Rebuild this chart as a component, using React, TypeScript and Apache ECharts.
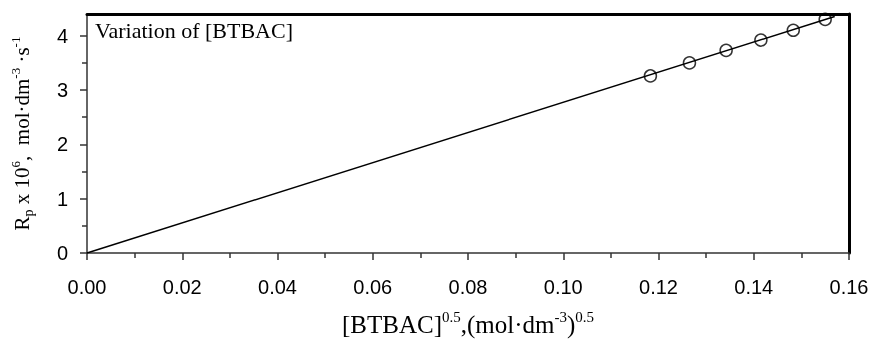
import React, { useEffect, useRef } from "react";
import * as echarts from "echarts";

const xValues = [0.1183, 0.1265, 0.1342, 0.1415, 0.1483, 0.155];
const yValues = [3.26, 3.5, 3.73, 3.92, 4.1, 4.3];
const fitLine = [
  [0, 0],
  [0.157, 4.355],
];
const yMajorTicks = [0, 1, 2, 3, 4];
const yMinorTicks = [0.5, 1.5, 2.5, 3.5];
const titleText = "Variation of [BTBAC]";

const SERIF = "'Liberation Serif', 'Times New Roman', serif";
const SANS = "'Liberation Sans', Arial, sans-serif";

export default function App() {
  const ref = useRef<HTMLDivElement>(null);
  useEffect(() => {
    if (!ref.current) return;
    const chart = echarts.init(ref.current, null, { renderer: "svg" });
    const xb = { fontFamily: SERIF, fontSize: 25, color: "#000" };
    const xs = { fontFamily: SERIF, fontSize: 15, color: "#000", verticalAlign: "top" as const };
    const yb = { fontFamily: SERIF, fontSize: 21, color: "#000" };
    const ys = { fontFamily: SERIF, fontSize: 13, color: "#000", verticalAlign: "top" as const };
    const yd = { fontFamily: SERIF, fontSize: 14, color: "#000", verticalAlign: "bottom" as const };
    chart.setOption({
      animation: false,
      grid: { left: 87, right: 23, top: 14, bottom: 80, containLabel: false },
      graphic: [
        {
          type: "text",
          left: 95,
          top: 19,
          style: { text: titleText, font: `22px ${SERIF}`, fill: "#000" },
        },
      ],
      xAxis: [
        {
          type: "value",
          min: 0,
          max: 0.16,
          interval: 0.02,
          splitLine: { show: false },
          axisLine: { show: true, onZero: false, lineStyle: { color: "#333", width: 1.5 } },
          axisTick: { show: true, length: 7, lineStyle: { color: "#333", width: 1.5 } },
          minorTick: { show: true, splitNumber: 2, length: 5, lineStyle: { color: "#333", width: 1.5 } },
          axisLabel: {
            margin: 24,
            fontFamily: SANS,
            fontSize: 20,
            color: "#000",
            formatter: (v: number) => v.toFixed(2),
          },
          name: "{b|[BTBAC]}{s|0.5}{b|,(mol·dm}{s|-3}{b|)}{s|0.5}",
          nameLocation: "middle",
          nameGap: 56,
          nameTextStyle: { rich: { b: xb, s: xs }, lineHeight: 30 },
        },
        {
          type: "value",
          position: "top",
          min: 0,
          max: 0.16,
          splitLine: { show: false },
          axisLine: { show: true, onZero: false, lineStyle: { color: "#000", width: 3 } },
          axisTick: { show: false },
          axisLabel: { show: false },
        },
      ],
      yAxis: [
        {
          type: "value",
          min: 0,
          max: 4.4,
          splitLine: { show: false },
          axisLine: { show: true, onZero: false, lineStyle: { color: "#333", width: 1.5 } },
          axisTick: { show: true, length: 7, customValues: yMajorTicks, lineStyle: { color: "#333", width: 1.5 } },
          axisLabel: { customValues: yMajorTicks, margin: 19, fontFamily: SANS, fontSize: 20, color: "#000" },
          name: "{b|R}{d|p}{b| x 10}{s|6}{b|,  mol·dm}{s|-3}{b| ·s}{s|-1}",
          nameLocation: "middle",
          nameRotate: 90,
          nameGap: 52,
          nameTextStyle: { rich: { b: yb, s: ys, d: yd }, lineHeight: 26 },
        },
        {
          type: "value",
          position: "left",
          min: 0,
          max: 4.4,
          splitLine: { show: false },
          axisLine: { show: false, onZero: false },
          axisTick: { show: true, length: 5, customValues: yMinorTicks, lineStyle: { color: "#333", width: 1.5 } },
          axisLabel: { show: false },
        },
        {
          type: "value",
          position: "right",
          min: 0,
          max: 4.4,
          splitLine: { show: false },
          axisLine: { show: true, onZero: false, lineStyle: { color: "#000", width: 3 } },
          axisTick: { show: false },
          axisLabel: { show: false },
        },
      ],
      series: [
        {
          type: "line",
          data: fitLine,
          showSymbol: false,
          symbol: "none",
          lineStyle: { color: "#000", width: 1.5 },
          z: 2,
        },
        {
          type: "scatter",
          data: xValues.map((x, i) => [x, yValues[i]]),
          symbol: "circle",
          symbolSize: 12,
          itemStyle: { color: "rgba(0,0,0,0)", borderColor: "#000", borderWidth: 1.5 },
          z: 3,
        },
      ],
    });
    return () => chart.dispose();
  }, []);
  return (
    <div
      ref={ref}
      style={{ position: "fixed", left: 0, top: 0, width: 872, height: 344 }}
    />
  );
}
